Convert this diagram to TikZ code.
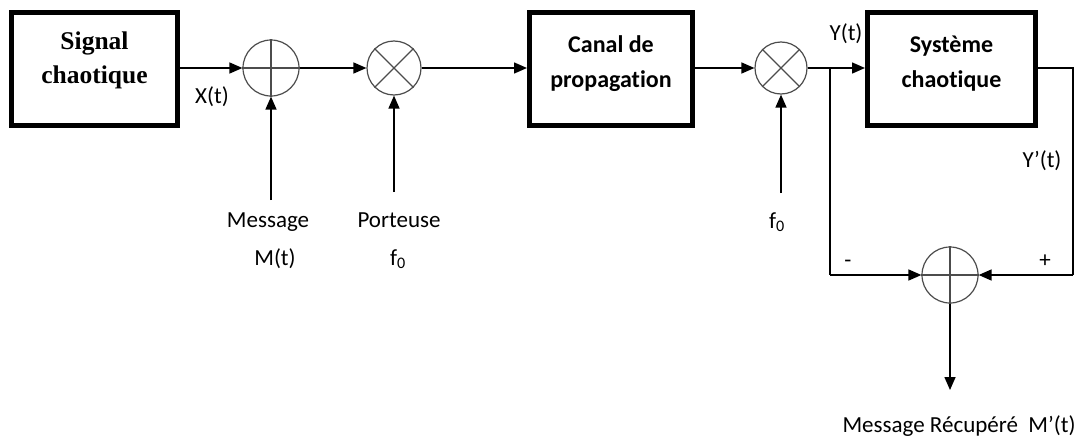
\documentclass[tikz,border=0pt]{standalone}
\usepackage{fontspec}
\setmainfont{Carlito}[Ligatures=NoCommon]
\newfontfamily\titleserif{Liberation Serif}
\usetikzlibrary{arrows.meta,positioning}

\begin{document}
\begin{tikzpicture}[
    x=1pt, y=-1pt,
    font=\fontsize{23}{28}\selectfont,
    block/.style={rectangle, draw, line width=5pt, minimum height=113pt, align=center, text depth=15pt, font=\fontsize{24}{35}\selectfont\bfseries},
    junction/.style={circle, draw=black!70, line width=1.2pt, minimum size=54pt, inner sep=0pt},
    cross/.style={draw=black!70, line width=1.1pt},
    edge/.style={-{Triangle[length=13pt,width=11pt]}, line width=1.5pt},
    wire/.style={line width=1.5pt},
    lbl/.style={anchor=base, inner sep=0pt}
]
    \useasboundingbox (0,0) rectangle (1086,439);

    % blocks
    \node[block, minimum width=166pt, text depth=22pt, font=\fontsize{25.5}{34}\selectfont\titleserif\bfseries] (sig) at (94.5,69) {Signal\\chaotique};
    \node[block, minimum width=163pt] (canal) at (611,69) {Canal de\\propagation};
    \node[block, minimum width=168pt] (sys) at (951.5,69) {Système\\chaotique};

    % adders and mixers
    \node[junction, minimum size=56pt] (add) at (271,68) {};
    \node[junction] (mix) at (394,68) {};
    \node[junction, minimum size=52pt] (demix) at (781,68) {};
    \node[junction, minimum size=56pt] (sub) at (950,275) {};
    \draw[cross] (add.north) -- (add.south) (add.west) -- (add.east);
    \draw[cross] (sub.north) -- (sub.south) (sub.west) -- (sub.east);
    \draw[cross] (mix.north west) -- (mix.south east) (mix.north east) -- (mix.south west);
    \draw[cross] (demix.north west) -- (demix.south east) (demix.north east) -- (demix.south west);

    % free ends
    \coordinate (msgin) at (271,200);
    \coordinate (porin) at (394,192);
    \coordinate (f0in) at (781,193);
    \coordinate (split) at (830,68);
    \coordinate (ne) at (1073,68);
    \coordinate (se) at (1073,275);
    \coordinate (sw) at (830,275);
    \coordinate (out) at (950,390);

    % main chain
    \draw[edge] (sig.east |- add) -- (add);
    \draw[edge] (add) -- (mix);
    \draw[edge] (mix) -- (canal.west |- mix);
    \draw[edge] (canal.east |- demix) -- (demix);
    \draw[edge] (demix) -- (sys.west |- demix);
    \draw[edge] (msgin) -- (add);
    \draw[edge] (porin) -- (mix);
    \draw[edge] (f0in) -- (demix);

    % recovery loop
    \draw[wire] (sys.east |- ne) -- (ne) -- (se);
    \draw[edge] (se) -- (sub);
    \draw[wire] (split) -- (sw);
    \draw[edge] (sw) -- (sub);
    \draw[edge] (sub) -- (out);

    % labels
    \node[lbl] (xt) at (212,103) {X(t)};
    \node[lbl] (yt) at (846,40) {Y(t)};
    \node[lbl] (ypt) at (1042,167) {Y’(t)};
    \node[lbl] (msg) at (268,227) {Message};
    \node[lbl] (mt) at (275,265) {M(t)};
    \node[lbl] (por) at (399,227) {Porteuse};
    \node[lbl] (porf) at (398,265) {f\textsubscript{0}};
    \node[lbl] (f0) at (777,228) {f\textsubscript{0}};
    \node[lbl] (minus) at (848,267) {-};
    \node[lbl] (plus) at (1045,267) {+};
    \node[lbl] (rec) at (959,432) {Message Récupéré\ \ M’(t)};
\end{tikzpicture}
\end{document}
